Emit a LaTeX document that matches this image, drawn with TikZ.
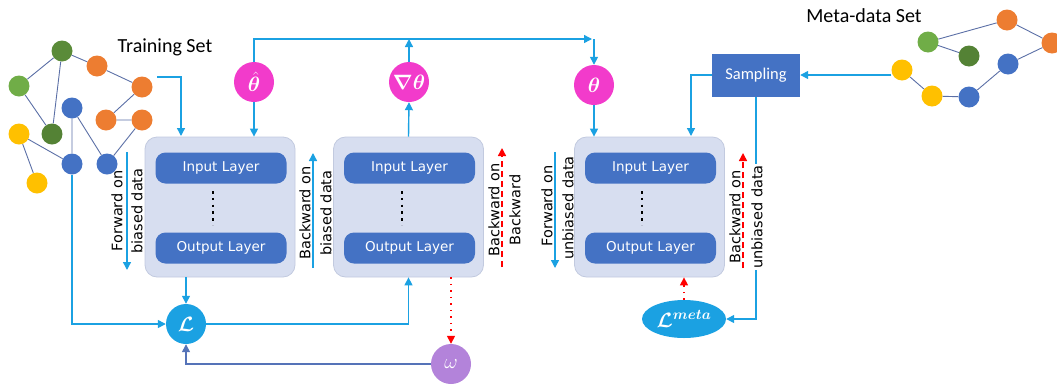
\documentclass[tikz,border=0pt]{standalone}
\usepackage{fontspec}
\setmainfont{DejaVu Sans}
\newfontfamily\calfont{Carlito}
\usepackage{amsmath,bm}
\usetikzlibrary{arrows.meta,calc,shapes.geometric}
\definecolor{cyanl}{HTML}{1BA1E2}
\definecolor{pinkc}{HTML}{F23BCB}
\definecolor{pillc}{HTML}{4472C4}
\definecolor{boxf}{HTML}{D7DEF0}
\definecolor{boxd}{HTML}{C2CADF}
\definecolor{purp}{HTML}{B383DA}
\definecolor{edgec}{HTML}{5B6FA6}
\definecolor{steel}{HTML}{5573B8}
\definecolor{gdark}{HTML}{548235}
\definecolor{glight}{HTML}{70AD47}
\definecolor{orng}{HTML}{ED7D31}
\definecolor{blu}{HTML}{4472C4}
\definecolor{yel}{HTML}{FFC000}
\begin{document}
\begin{tikzpicture}[x=1pt,y=-1pt,
  bigbox/.style={draw=boxd,fill=boxf,rounded corners=12pt,minimum width=150pt,minimum height=140pt,line width=0.8pt},
  pill/.style={fill=pillc,rounded corners=10pt,minimum width=131pt,minimum height=31pt,text=white,font=\fontsize{13.5}{15}\selectfont},
  gnode/.style={circle,inner sep=0pt,minimum size=21pt},
  gedge/.style={draw=edgec,line width=0.9pt},
  carr/.style={draw=cyanl,line width=1.4pt,-{Triangle[length=8pt,width=8pt]}},
  rarr/.style={draw=red,line width=1.4pt,dash pattern=on 6pt off 4pt,-{Triangle[length=8pt,width=8pt]}},
  rdot/.style={draw=red,line width=1.4pt,dash pattern=on 1.5pt off 5pt,-{Triangle[length=8pt,width=8pt]}},
  parm/.style={circle,fill=pinkc,minimum size=40pt,inner sep=0pt,text=white,font=\fontsize{21}{24}\selectfont},
  side/.style={rotate=90,font=\fontsize{14.5}{16}\selectfont,inner sep=1pt},
  sidew/.style={side,fill=white},
  ttl/.style={font=\calfont\fontsize{20}{22}\selectfont}]
\useasboundingbox (0,0) rectangle (1057,389);

% ---------- training graph ----------
\node[gnode,fill=gdark!80!glight] (g1) at (62,51) {};
\node[gnode,fill=orng] (o1) at (97,66) {};
\node[gnode,fill=glight] (g2) at (19,86) {};
\node[gnode,fill=orng] (o2) at (142,87) {};
\node[gnode,fill=blu] (b1) at (72,108) {};
\node[gnode,fill=orng] (o3) at (106,120) {};
\node[gnode,fill=orng] (o4) at (142,120) {};
\node[gnode,fill=yel] (y1) at (19,134) {};
\node[gnode,fill=gdark] (g3) at (52,134) {};
\node[gnode,fill=blu] (b2) at (72,164) {};
\node[gnode,fill=blu] (b3) at (107,164) {};
\node[gnode,fill=yel] (y2) at (37,183) {};
\path[gedge] (g1)--(o1) (g1)--(g2) (g1)--(g3) (o1)--(o2) (o2)--(o3) (o3)--(o4)
  (g2)--(g3) (b1)--(b2) (b1)--(b3) (b3)--(o4) (y1)--(b2) (y1)--(y2);
\node[ttl] (tset) at (165,47) {Training Set};

% ---------- meta graph ----------
\node[gnode,fill=orng] (mo1) at (1007,20) {};
\node[gnode,fill=orng] (mo2) at (1052,43) {};
\node[gnode,fill=glight] (mg1) at (928,42) {};
\node[gnode,fill=gdark] (mg2) at (969,56) {};
\node[gnode,fill=blu] (mb1) at (1008,64) {};
\node[gnode,fill=yel] (my1) at (902,70) {};
\node[gnode,fill=yel] (my2) at (932,96) {};
\node[gnode,fill=blu] (mb2) at (969,97) {};
\path[gedge] (mg1)--(mo1) (mo1)--(mo2) (mg1)--(mg2) (mo2)--(mb1) (mb1)--(mb2) (mb2)--(my2) (my2)--(my1);
\node[ttl] (mset) at (864,16) {Meta-data Set};

% ---------- boxes ----------
\node[bigbox] (box1) at (220,207) {};
\node[bigbox] (box2) at (408.5,207) {};
\node[bigbox] (box3) at (649.5,207) {};
\node[pill] (in1) at (221,168) {Input Layer};
\node[pill] (out1) at (221,248) {Output Layer};
\node[pill] (in2) at (409.5,168) {Input Layer};
\node[pill] (out2) at (409.5,248) {Output Layer};
\node[pill] (in3) at (650.5,168) {Input Layer};
\node[pill] (out3) at (650.5,248) {Output Layer};
\foreach \x in {213,402,642}
  \draw[line width=2.6pt,dash pattern=on 2.6pt off 4.2pt] (\x,191) -- (\x,225);

% ---------- parameter circles ----------
\node[parm] (th1) at (254,82) {$\bm{\hat\theta}$};
\node[parm] (th2) at (409,82) {$\bm{\nabla\theta}$};
\node[parm] (th3) at (594,85) {$\bm{\theta}$};
\coordinate (topR) at (594,39);
\draw[carr] (th1.north) |- ([xshift=-2pt]topR);
\draw[carr] (topR) -- (th3.north);
\draw[carr] (th2.north) -- (th2.north |- topR);
\draw[carr] (box2.north) -- (th2.south);
\draw[carr] (th1.south) -- (th1.south |- box1.north);
\draw[carr] (th3.south) -- (th3.south |- box3.north);
\coordinate (tsA) at (157,77);
\draw[carr] (tsA) -| (181,136);

% ---------- sampling ----------
\node[fill=pillc,minimum width=88pt,minimum height=43pt,text=white,font=\calfont\fontsize{16.5}{18}\selectfont] (samp) at (756,75) {Sampling};
\draw[carr] (my1.west |- samp) -- (samp.east);
\coordinate (s3) at (691,136);
\draw[carr] (samp.west) -| (s3);

% ---------- losses ----------
\node[circle,fill=cyanl,minimum size=40pt,inner sep=0pt,text=white,font=\fontsize{22}{24}\selectfont] (L) at (186,324) {$\bm{\mathcal{L}}$};
\node[ellipse,fill=cyanl,minimum width=84pt,minimum height=38pt,inner sep=0pt,text=white,font=\fontsize{21}{24}\selectfont] (Lm) at (684,319) {$\bm{\mathcal{L}^{meta}}$};
\node[circle,fill=purp,minimum size=40pt,inner sep=0pt,text=white,font=\fontsize{21}{24}\selectfont] (w) at (451,364) {$\omega$};

\draw[carr] (box1.south -| L) -- (L.north);
\draw[carr] (b2.south) |- (L.west);
\draw[carr] (L.east) -| (box2.south);
\draw[rdot] (box2.south -| w) -- (w.north);
\draw[draw=steel,line width=1.4pt,-{Triangle[length=8pt,width=8pt]}] (w.west) -| (L.south);
\draw[rdot] (Lm.north) -- (box3.south -| Lm);
\draw[draw=cyanl,line width=1.4pt,-{Triangle[length=8pt,width=8pt]}] (samp.south) |- (Lm.east);

% ---------- side arrows ----------
\coordinate (f1a) at (127,152); \coordinate (f1b) at (127,270);
\draw[carr] (f1a) -- (f1b);
\node[side] (f1t1) at (117,211) {Forward on};
\node[side] (f1t2) at (137,211) {biased data};

\coordinate (b1a) at (313,268); \coordinate (b1b) at (313,153);
\draw[carr] (b1a) -- (b1b);
\node[side] (b1t1) at (305,213) {Backward on};
\node[side] (b1t2) at (326,213) {biased data};

\coordinate (bba) at (502,267); \coordinate (bbb) at (502,148);
\draw[rarr] (bba) -- (bbb);
\node[side] (bbt1) at (494,210) {Backward on};
\node[side] (bbt2) at (515,210) {Backward};

\coordinate (f2a) at (555,152); \coordinate (f2b) at (555,268);
\draw[carr] (f2a) -- (f2b);
\node[side] (f2t1) at (547,206) {Forward on};
\node[side] (f2t2) at (568,208) {unbiased data};

\coordinate (b2a) at (743,268); \coordinate (b2b) at (743,153);
\draw[rarr] (b2a) -- (b2b);
\node[side] (b2t1) at (735,217) {Backward on};
\node[sidew] (b2t2) at (757,217) {unbiased data};
\end{tikzpicture}
\end{document}
